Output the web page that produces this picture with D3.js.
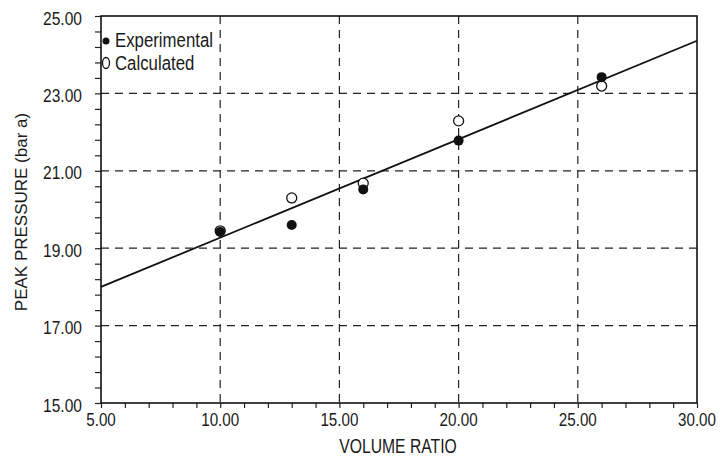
<!DOCTYPE html>
<html><head><meta charset="utf-8">
<script src="https://cdn.jsdelivr.net/npm/d3@7"></script>
<style>body{margin:0;background:#fff}svg{display:block}text{font-family:"Liberation Sans",Arial,sans-serif;fill:#1a1a1a}</style>
</head><body><svg id="c" width="722" height="458"></svg>
<script>
const volumeRatio = [10, 13, 16, 20, 26];
const experimental = [19.42, 19.60, 20.52, 21.78, 23.42];
const calculated = [19.45, 20.30, 20.68, 22.29, 23.19];
const fitX = [5, 30];
const fitY = [18.0, 24.36];
const xTicks = [5, 10, 15, 20, 25, 30];
const yTicks = [15, 17, 19, 21, 23, 25];
const xLabel = "VOLUME RATIO";
const yLabel = "PEAK PRESSURE (bar a)";
const legendLabels = ["Experimental", "Calculated"];

const svg = d3.select("#c");
const m = {l:101, r:697, t:16, b:403};
const x = d3.scaleLinear().domain([5,30]).range([m.l,m.r]);
const y = d3.scaleLinear().domain([15,25]).range([m.b,m.t]);
function txt(parent, tx, ty, s, size, anchor, sx, rot) {
  const gg = parent.append("g").attr("transform", `translate(${tx},${ty})` + (rot ? ` rotate(${rot})` : "") + ` scale(${sx},1)`);
  gg.append("text").attr("font-size", size).attr("text-anchor", anchor || "start").text(s);
  return gg;
}

// grid
const g = svg.append("g").attr("stroke","#222").attr("stroke-width",1.2).attr("stroke-dasharray","8,6");
xTicks.filter(d=>d>5&&d<30).forEach(d=>g.append("line").attr("x1",x(d)).attr("x2",x(d)).attr("y1",m.t).attr("y2",m.b));
yTicks.filter(d=>d>15&&d<25).forEach(d=>g.append("line").attr("x1",m.l).attr("x2",m.r).attr("y1",y(d)).attr("y2",y(d)));

// axes
const xMinor = d3.range(5,30.01,1);
const yMinor = d3.range(15,25.01,0.4);
const xa = svg.append("g").attr("transform",`translate(0,${m.b})`)
  .call(d3.axisBottom(x).tickValues(xMinor).tickSize(5).tickFormat(""));
const ya = svg.append("g").attr("transform",`translate(${m.l},0)`)
  .call(d3.axisLeft(y).tickValues(yMinor).tickSize(6).tickFormat(""));
[xa,ya].forEach(a=>{a.select(".domain").remove();a.selectAll("line").attr("stroke","#222").attr("stroke-width",1.2);});

// frame
svg.append("rect").attr("x",m.l).attr("y",m.t).attr("width",m.r-m.l).attr("height",m.b-m.t)
  .attr("fill","none").attr("stroke","#111").attr("stroke-width",1.6);

// tick labels
const tl = svg.append("g");
xTicks.forEach(d=>txt(tl, x(d), 426, d.toFixed(2), 19, "middle", 0.8));
yTicks.forEach(d=>txt(tl, m.l-19, y(d)+8.5, d.toFixed(2), 19, "end", 0.82));

// titles
txt(svg, 398, 453, xLabel, 20, "middle", 0.785);
txt(svg, 27, 212, yLabel, 17, "middle", 1.0, -90);

// fit line
const line = d3.line().x((d,i)=>x(fitX[i])).y(d=>y(d));
svg.append("path").attr("d",line(fitY)).attr("fill","none").attr("stroke","#111").attr("stroke-width",1.8);

// points
svg.append("g").selectAll("circle").data(volumeRatio).join("circle")
  .attr("cx",d=>x(d)).attr("cy",(d,i)=>y(calculated[i])).attr("r",5)
  .attr("fill","#fff").attr("stroke","#111").attr("stroke-width",1.3);
svg.append("g").selectAll("circle").data(volumeRatio).join("circle")
  .attr("cx",d=>x(d)).attr("cy",(d,i)=>y(experimental[i])).attr("r",5).attr("fill","#111");

// legend
svg.append("circle").attr("cx",106).attr("cy",41).attr("r",3.5).attr("fill","#111");
svg.append("ellipse").attr("cx",106).attr("cy",63).attr("rx",3.5).attr("ry",5.5).attr("fill","none").attr("stroke","#111").attr("stroke-width",1.3);
txt(svg, 115, 47, legendLabels[0], 21, "start", 0.8);
txt(svg, 115, 70, legendLabels[1], 21, "start", 0.8);
</script></body></html>
